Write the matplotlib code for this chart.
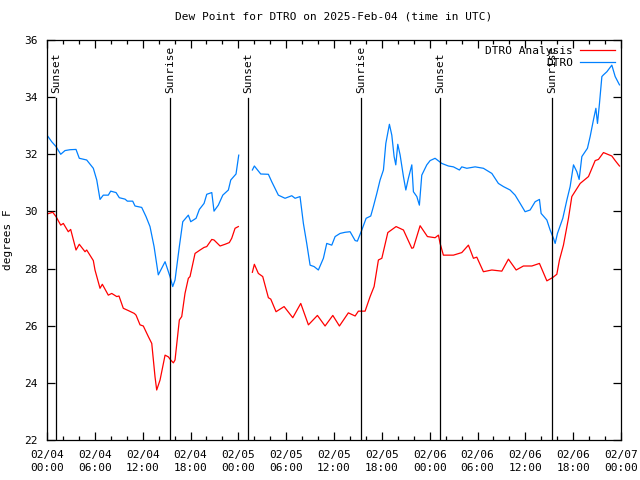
#!/usr/bin/env python3
# -*- coding: utf-8 -*-
"""Dew point for DTRO, station obs vs analysis, with sunrise/sunset markers."""
import pandas as pd
import matplotlib
matplotlib.use("Agg")
import matplotlib.pyplot as plt
import matplotlib.dates as mdates

BASE = pd.Timestamp("2025-02-04 00:00")

# ---- data: hours after 02/04 00:00 UTC, dew point in degrees F ----
# station observations (two pieces, gap around 02/05 00:00)
obs_h1 = [0.0, 0.59, 1.13, 1.72, 2.26, 2.89, 3.64, 4.05, 4.98, 5.81, 6.24, 6.65,
          7.06, 7.69, 7.99, 8.66, 9.07, 9.79, 10.08, 10.75, 11.04, 11.88, 12.42,
          12.92, 13.43, 13.96, 14.81, 15.43, 15.77, 16.06, 16.6, 17.03, 17.73,
          18.03, 18.7, 19.11, 19.7, 20.04, 20.67, 20.95, 21.49, 22.05, 22.75,
          23.05, 23.71, 24.05]
obs_v1 = [32.67, 32.44, 32.27, 32.0, 32.13, 32.16, 32.17, 31.86, 31.8, 31.51, 31.1,
          30.42, 30.57, 30.57, 30.71, 30.66, 30.48, 30.43, 30.36, 30.36, 30.19,
          30.14, 29.82, 29.47, 28.77, 27.78, 28.24, 27.72, 27.37, 27.6, 28.77,
          29.64, 29.87, 29.64, 29.76, 30.07, 30.28, 30.6, 30.66, 30.01, 30.22,
          30.57, 30.75, 31.1, 31.31, 31.97]
obs_h2 = [25.76, 26.01, 26.81, 27.77, 28.19, 29.02, 29.86, 30.7, 31.12, 31.74,
          32.16, 32.58, 33.0, 33.5, 34.04, 34.67, 35.09, 35.72, 36.14, 36.76,
          37.39, 38.02, 38.65, 38.93, 39.49, 40.03, 40.61, 40.94, 41.37, 41.78,
          42.2, 42.5, 42.95, 43.25, 43.54, 43.75, 44.0, 44.29, 44.71, 45.01,
          45.33, 45.76, 45.96, 46.39, 46.71, 47.01, 47.64, 48.06, 48.68, 49.52,
          50.35, 50.98, 51.73, 52.03, 52.66, 53.7, 54.74, 55.8, 56.62, 57.25,
          58.09, 58.72, 59.35, 59.97, 60.6, 61.23, 61.77, 61.98, 62.7, 63.11,
          63.53, 63.74, 64.03, 64.7, 65.21, 65.62, 66.04, 66.46, 66.75, 67.09,
          67.79, 68.13, 68.54, 68.85, 69.05, 69.3, 69.6, 69.8, 70.23, 70.85,
          71.27, 71.81]
obs_v2 = [31.45, 31.59, 31.31, 31.3, 31.04, 30.57, 30.46, 30.55, 30.46, 30.52,
          29.58, 28.88, 28.12, 28.07, 27.95, 28.36, 28.88, 28.82, 29.12, 29.23,
          29.27, 29.29, 28.98, 28.96, 29.35, 29.76, 29.84, 30.17, 30.63, 31.1,
          31.45, 32.38, 33.05, 32.67, 31.92, 31.63, 32.35, 31.98, 31.22, 30.75,
          31.16, 31.63, 30.69, 30.52, 30.22, 31.27, 31.63, 31.78, 31.86, 31.68,
          31.59, 31.56, 31.45, 31.56, 31.51, 31.56, 31.51, 31.33, 30.98, 30.87,
          30.75, 30.57, 30.28, 29.99, 30.05, 30.34, 30.42, 29.93, 29.7, 29.35,
          29.06, 28.88, 29.23, 29.76, 30.4, 30.87, 31.63, 31.39, 31.12, 31.92,
          32.21, 32.62, 33.2, 33.61, 33.08, 33.78, 34.72, 34.78, 34.89, 35.12,
          34.72, 34.43]

# analysis
ana_h1 = [0.0, 0.72, 1.13, 1.72, 2.05, 2.67, 2.97, 3.64, 4.05, 4.77, 4.98, 5.81,
          6.02, 6.65, 6.94, 7.69, 8.12, 8.75, 9.03, 9.57, 10.2, 10.95, 11.17,
          11.67, 12.08, 12.71, 13.14, 13.55, 13.76, 14.18, 14.81, 15.22, 15.52,
          15.85, 16.06, 16.6, 16.9, 17.31, 17.73, 17.94, 18.57, 19.2, 19.7,
          20.04, 20.67, 20.95, 21.71, 22.33, 22.87, 23.17, 23.59, 24.0]
ana_v1 = [29.91, 29.97, 29.82, 29.52, 29.58, 29.29, 29.37, 28.65, 28.85, 28.59,
          28.65, 28.28, 27.95, 27.31, 27.45, 27.07, 27.13, 27.02, 27.04, 26.61,
          26.53, 26.43, 26.37, 26.03, 25.99, 25.62, 25.38, 24.21, 23.75, 24.1,
          24.97, 24.91, 24.8, 24.7, 24.8, 26.2, 26.32, 27.13, 27.66, 27.72,
          28.53, 28.65, 28.74, 28.77, 29.02, 29.0, 28.79, 28.85, 28.91, 29.06,
          29.41, 29.47]
ana_h2 = [25.76, 26.01, 26.51, 27.06, 27.77, 28.07, 28.73, 29.74, 30.83, 31.83,
          32.79, 33.92, 34.88, 35.85, 36.68, 37.8, 38.65, 39.06, 39.9, 40.53,
          41.03, 41.57, 42.0, 42.75, 43.79, 44.71, 45.76, 45.96, 46.8, 47.72,
          48.68, 49.1, 49.31, 49.72, 50.98, 52.03, 52.86, 53.49, 53.91, 54.74,
          55.8, 57.05, 57.88, 58.85, 59.76, 60.82, 61.77, 62.7, 63.45, 63.95,
          64.28, 64.78, 65.41, 65.83, 66.88, 67.92, 68.76, 69.17, 69.8, 70.85,
          71.27, 71.81]
ana_v2 = [27.87, 28.15, 27.83, 27.72, 26.98, 26.93, 26.49, 26.67, 26.28, 26.78,
          26.03, 26.36, 25.99, 26.36, 25.99, 26.45, 26.34, 26.51, 26.51, 27.02,
          27.37, 28.3, 28.36, 29.26, 29.47, 29.35, 28.71, 28.73, 29.5, 29.12,
          29.08, 29.17, 28.88, 28.47, 28.47, 28.56, 28.82, 28.36, 28.4, 27.89,
          27.95, 27.91, 28.33, 27.95, 28.09, 28.09, 28.18, 27.57, 27.69, 27.8,
          28.3, 28.82, 29.76, 30.52, 30.98, 31.22, 31.78, 31.82, 32.06, 31.94,
          31.78, 31.59]

# sun events, hours after base
sun_h = [1.15, 15.45, 25.2, 39.4, 49.3, 63.35]
sun_lbl = ["Sunset", "Sunrise", "Sunset", "Sunrise", "Sunset", "Sunrise"]


def t(hours):
    return BASE + pd.to_timedelta(hours, unit="h")


plt.rcParams["font.family"] = "DejaVu Sans Mono"
plt.rcParams["font.size"] = 8
plt.rcParams["axes.linewidth"] = 0.9

fig = plt.figure(figsize=(6.4, 4.8), dpi=100)
ax = fig.add_axes([47 / 640, 40 / 480, 574 / 640, 400 / 480])

RED, BLUE = "#ff0000", "#0080ff"
LW = 0.9
ax.plot(t(ana_h1), ana_v1, color=RED, lw=LW, label="DTRO Analysis")
ax.plot(t(ana_h2), ana_v2, color=RED, lw=LW)
ax.plot(t(obs_h1), obs_v1, color=BLUE, lw=LW, label="DTRO")
ax.plot(t(obs_h2), obs_v2, color=BLUE, lw=LW)

for h, lbl in zip(sun_h, sun_lbl):
    ax.plot([t(h), t(h)], [22, 33.97], color="black", lw=LW)
    ax.text(t(h), 34.15, lbl, rotation=90, ha="center", va="bottom", fontsize=8)

ax.set_xlim(t(0), t(72))
ax.set_ylim(22, 36)
ax.set_yticks(range(22, 37, 2))
ax.xaxis.set_major_locator(mdates.HourLocator(byhour=[0, 6, 12, 18]))
ax.xaxis.set_minor_locator(mdates.HourLocator(interval=2))
ax.xaxis.set_major_formatter(mdates.DateFormatter("%m/%d\n%H:%M"))
ax.tick_params(which="both", direction="in", top=True, right=True, width=0.9)
ax.tick_params(which="major", length=6, pad=7)
ax.tick_params(which="minor", length=3)
for lab in ax.get_xticklabels():
    lab.set_linespacing(1.4)

ax.set_ylabel("degrees F", labelpad=8)
ax.set_title("Dew Point for DTRO on 2025-Feb-04 (time in UTC)", fontsize=8, pad=15)

ax.legend(loc="upper right", frameon=False, markerfirst=False, handlelength=3.2,
          borderaxespad=0.1, labelspacing=0.25, handletextpad=0.6)

fig.savefig("out.png", dpi=100)
